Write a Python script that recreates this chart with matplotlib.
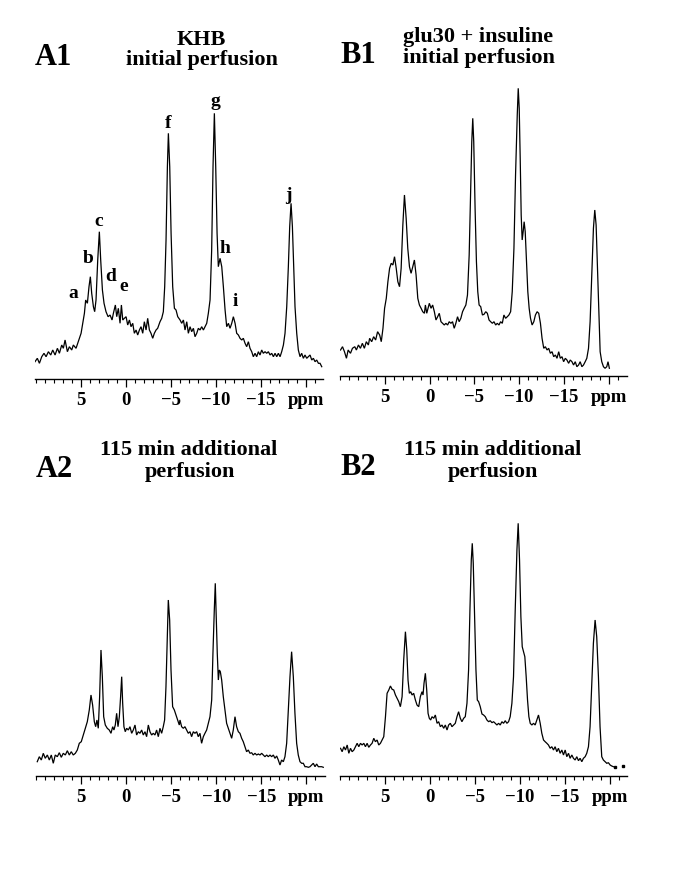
import matplotlib
matplotlib.use('Agg')
import matplotlib.pyplot as plt

plt.rcParams['font.family'] = ['Liberation Serif', 'DejaVu Serif']
plt.rcParams['font.weight'] = 'bold'

# ---------------- data ----------------
major_ticks = [5, 0, -5, -10, -15, -20]
tick_labels = ['5', '0', '\u22125', '\u221210', '\u221215', 'ppm']
minor_ticks = list(range(10, -22, -1))

a1_ppm = [10.06, 9.80, 9.57, 9.31, 9.06, 8.83, 8.57, 8.31, 8.09, 7.83, 7.57, 7.35, 7.09, 6.91, 6.72,
          6.46, 6.24, 5.98, 5.80, 5.50, 5.31, 5.13, 4.94, 4.76, 4.57, 4.43, 4.24, 4.06, 3.91, 3.76,
          3.57, 3.43, 3.28, 3.09, 2.91, 2.76, 2.57, 2.39, 2.17, 1.94, 1.72, 1.50, 1.35, 1.13, 0.98,
          0.80, 0.61, 0.46, 0.31, 0.13, -0.06, -0.24, -0.43, -0.61, -0.80, -0.98, -1.17, -1.35, -1.54,
          -1.72, -1.91, -2.09, -2.28, -2.46, -2.65, -2.83, -3.02, -3.20, -3.39, -3.57, -3.83, -4.02,
          -4.20, -4.35, -4.50, -4.65, -4.76, -4.91, -5.06, -5.24, -5.43, -5.61, -5.80, -6.06,
          -6.24, -6.43, -6.61, -6.80, -6.98, -7.17, -7.35, -7.54, -7.72, -7.91, -8.09, -8.28, -8.46,
          -8.65, -8.83, -9.02, -9.20, -9.39, -9.57, -9.72, -9.87, -10.02, -10.17, -10.31, -10.50,
          -10.69, -10.87, -11.06, -11.24, -11.43, -11.61, -11.80, -11.98, -12.17, -12.35, -12.54,
          -12.72, -12.91, -13.09, -13.28, -13.46, -13.65, -13.83, -14.02, -14.20, -14.39, -14.57,
          -14.76, -14.94, -15.13, -15.31, -15.50, -15.69, -15.87, -16.06, -16.24, -16.43, -16.61,
          -16.80, -16.98, -17.17, -17.35, -17.54, -17.72, -17.91, -18.09, -18.24, -18.39, -18.54,
          -18.69, -18.83, -19.02, -19.20, -19.39, -19.57, -19.76, -19.94, -20.13, -20.31, -20.50,
          -20.69, -20.87, -21.06, -21.24, -21.43, -21.61, -21.80]
a1_int = [17.3, 20.7, 15.7, 22.3, 25.7, 22.3, 27.3, 24, 29, 24, 30.7, 25.7, 34, 30.7, 39,
          27.3, 32.3, 29, 34, 30.7, 35.7, 40.7, 45.7, 55.7, 65.7, 79, 75.7, 92.3, 102.3, 85.7,
          72.3, 67.3, 79, 119, 147.3, 119, 89, 75.7, 67.3, 62.3, 64, 59, 65.7, 74, 62.3,
          70.7, 55.7, 74, 59, 60.7, 62.3, 54, 59, 52.3, 55.7, 45.7, 49, 44, 49,
          52.3, 45.7, 57.3, 49, 60.7, 49, 45.7, 40.7, 45.7, 49, 50.7, 57.3, 60.7,
          67.3, 92.3, 139, 212.3, 245.7, 212.3, 145.7, 92.3, 70.7, 69, 62.3, 59,
          55.7, 59, 49, 57.3, 45.7, 52.3, 47.3, 50.7, 42.3, 45.7, 50.7, 49, 52.3,
          49, 52.3, 55.7, 65.7, 79, 129, 212.3, 265.7, 212.3, 145.7, 112.3, 120.7,
          112.3, 92.3, 69, 52.3, 55.7, 50.7, 55.7, 62.3, 55.7, 45.7, 44,
          40.7, 39, 40.7, 35.7, 32.3, 37.3, 30.7, 27.3, 22.3, 25.7, 22.3,
          27.3, 24, 29, 25.7, 27.3, 25.7, 27.3, 24, 25.7, 22.3, 25.7,
          22.3, 25.7, 22.3, 27.3, 34, 45.7, 72.3, 112.3, 152.3, 175.7, 152.3,
          112.3, 72.3, 45.7, 29, 22.3, 25.7, 20.7, 24, 20.7, 22.3, 24,
          19, 20.7, 17.3, 19, 15.7, 15.7, 12.3]

b1_ppm = [9.94, 9.72, 9.50, 9.28, 9.09, 8.83, 8.61, 8.35, 8.17, 7.94, 7.72, 7.50, 7.28, 7.06, 6.83,
          6.69, 6.46, 6.24, 6.02, 5.80, 5.57, 5.39, 5.20, 5.02, 4.83, 4.65, 4.46, 4.28, 4.09, 3.91,
          3.72, 3.54, 3.35, 3.17, 2.98, 2.80, 2.61, 2.43, 2.24, 2.06, 1.87, 1.69, 1.50, 1.31, 1.13,
          0.94, 0.76, 0.57, 0.46, 0.31, 0.17, 0.02, -0.17, -0.35, -0.54, -0.72, -0.91, -1.09, -1.28,
          -1.46, -1.65, -1.83, -2.02, -2.20, -2.39, -2.57, -2.76, -2.94, -3.13, -3.31, -3.50, -3.69,
          -3.87, -4.06, -4.24, -4.43, -4.57, -4.72, -4.83, -4.94, -5.09, -5.24, -5.39, -5.54, -5.72,
          -5.91, -6.09, -6.28,
          -6.46, -6.65, -6.83, -7.02, -7.20, -7.39, -7.57, -7.76, -7.94, -8.13, -8.31, -8.50, -8.69,
          -8.87, -9.06, -9.24, -9.43, -9.61, -9.80, -9.91, -10.02, -10.13, -10.24, -10.35, -10.46,
          -10.57, -10.69, -10.83, -10.98, -11.13, -11.28, -11.46, -11.65, -11.83, -12.02, -12.20,
          -12.39, -12.57, -12.76, -12.94, -13.13, -13.31, -13.50, -13.69, -13.87, -14.06, -14.24,
          -14.43, -14.61, -14.80, -14.98, -15.17, -15.35, -15.54, -15.72, -15.91, -16.09, -16.28,
          -16.46, -16.65, -16.83, -17.02, -17.20, -17.39, -17.57, -17.76, -17.94, -18.13, -18.31,
          -18.46, -18.61, -18.76, -18.91, -19.06, -19.24, -19.43, -19.61, -19.80, -19.94, -20.09]
b1_int = [20, 23.3, 18.3, 11.7, 20, 16.7, 21.7, 23.3, 20, 25, 21.7, 26.7, 21.7, 28.3, 25,
          31.7, 28.3, 33.3, 30, 38.3, 35, 28.3, 41.7, 61.7, 71.7, 88.3, 101.7, 106.7, 105, 113.3,
          101.7, 88.3, 83.3, 101.7, 145, 175, 151.7, 121.7, 103.3, 96.7, 103.3, 110, 95, 71.7, 65,
          61.7, 58.3, 56.7, 65, 56.7, 61.7, 66.7, 61.7, 65, 58.3, 50, 53.3, 56.7, 48.3,
          46.7, 45, 46.7, 45, 48.3, 46.7, 48.3, 41.7, 46.7, 53.3, 48.3, 51.7, 58.3,
          61.7, 65, 75, 115, 168.3, 228.3, 251.7, 228.3, 161.7, 108.3, 78.3, 65, 63.3,
          55, 55.7, 58.3,
          56.7, 50, 48.3, 46.7, 48.3, 45, 46.7, 45, 48.3, 46.7, 55, 51.7, 53.3,
          55, 58.3, 78.3, 121.7, 195, 255, 281.7, 261.7, 211.7, 155, 130, 138.3,
          148.3, 138.3, 108.3, 78.3, 61.7, 51.7, 45, 48.3, 55, 58.3, 56.7,
          46.7, 31.7, 21.7, 23.3, 20, 21.7, 16.7, 18.3, 13.3, 15, 11.7,
          18.3, 11.7, 13.3, 8.3, 11.7, 10, 6.7, 10, 8.3, 5, 8.3,
          3.3, 5, 8.3, 3.3, 5, 8.3, 11.7, 21.7, 48.3, 95, 141.7,
          160, 145, 101.7, 55, 18.3, 8.3, 3.3, 1.7, 3.3, 8.3, 1.7]

a2_ppm = [9.89, 9.66, 9.44, 9.22, 9.00, 8.77, 8.55, 8.33, 8.11, 7.89, 7.66, 7.44, 7.22, 7.00, 6.77,
          6.55, 6.33, 6.11, 5.89, 5.66, 5.44, 5.22, 5.00, 4.77, 4.55, 4.33, 4.11, 3.92, 3.74, 3.55,
          3.40, 3.26, 3.11, 2.96, 2.81, 2.66, 2.51, 2.33, 2.11, 1.89, 1.70, 1.51, 1.37, 1.22, 1.07,
          0.92, 0.77, 0.63, 0.51, 0.40, 0.26, 0.11, -0.04, -0.23, -0.41, -0.60, -0.78, -0.97, -1.15,
          -1.34, -1.52, -1.71, -1.89, -2.08, -2.26, -2.45, -2.63, -2.82, -3.00, -3.19, -3.37, -3.56,
          -3.74, -3.93, -4.11, -4.26, -4.41, -4.56, -4.67, -4.82, -4.97, -5.15, -5.34, -5.52, -5.71,
          -5.89,
          -5.97, -6.15, -6.34, -6.52, -6.71, -6.89, -7.08, -7.26, -7.45, -7.63, -7.82, -8.00, -8.19,
          -8.37, -8.56, -8.74, -8.93, -9.11, -9.30, -9.49, -9.63, -9.78, -9.89, -10.00, -10.11,
          -10.23, -10.34, -10.45, -10.60, -10.78, -10.97, -11.15, -11.34, -11.52, -11.71, -11.89,
          -12.08, -12.26, -12.45, -12.63, -12.82, -13.00, -13.19, -13.37, -13.56, -13.74, -13.93,
          -14.11, -14.30, -14.49, -14.67, -14.86, -15.04, -15.23, -15.41, -15.60, -15.78, -15.97,
          -16.15, -16.34, -16.52, -16.71, -16.89, -17.08, -17.26, -17.45, -17.63, -17.82, -18.00,
          -18.19, -18.37, -18.56, -18.74, -18.93, -19.11, -19.30, -19.49, -19.67, -19.86, -20.04,
          -20.23, -20.41, -20.60, -20.78, -20.97, -21.15, -21.34, -21.71, -21.89]
a2_int = [14.3, 19.3, 16, 22.7, 17.7, 21, 16, 21, 12.7, 21, 19.3, 23.3, 18.7, 22.7, 21,
          25.3, 21, 24.3, 21, 22.7, 26, 32.7, 34.3, 41, 47.7, 54.3, 66, 81, 71, 54.3,
          49.3, 56, 47.7, 79.3, 126, 99.3, 59.3, 51, 47.7, 46, 42.7, 49.3, 46, 51, 62.7,
          49.3, 59.3, 79.3, 99.3, 72.7, 49.3, 44.3, 47.7, 46, 49.3, 42.7, 46, 51, 41,
          44.3, 42.7, 46, 41, 44.3, 39.3, 51, 44.3, 41, 42.7, 41, 46, 39.3,
          47.7, 42.7, 49.3, 56, 89.3, 139.3, 176, 156, 106, 69.3, 66, 61, 56,
          51,
          56, 49.3, 47.7, 49.3, 46, 42.7, 44.3, 39.3, 44.3, 42.7, 44.3, 39.3, 42.7,
          32.7, 39.3, 42.7, 46, 52.7, 59.3, 76, 122.7, 166, 192.7, 156, 122.7,
          96, 106, 104.3, 96, 79.3, 66, 52.7, 47.7, 42.7, 37.7, 46,
          59.3, 49.3, 44.3, 42.7, 37.7, 34.3, 29.3, 24.3, 26, 22.7, 23.3,
          21, 22.7, 21, 22, 21, 22.7, 21, 19.3, 21, 19.3, 21,
          19.3, 21, 17.7, 20, 16, 11, 16, 14.3, 19.3, 32.7, 66,
          99.3, 124.3, 99.3, 62.7, 32.7, 21, 14.3, 12.7, 12.7, 9.3, 9.3,
          8.7, 9.3, 11, 12.7, 9.3, 12, 9.3, 9.3, 8.7]

b2_ppm = [9.94, 9.76, 9.57, 9.39, 9.20, 9.02, 8.83, 8.65, 8.46, 8.28, 8.09, 7.91, 7.72, 7.54, 7.35,
          7.17, 6.98, 6.80, 6.61, 6.43, 6.24, 6.06, 5.87, 5.69, 5.50, 5.31, 5.13, 4.94, 4.76, 4.57,
          4.39, 4.20, 4.02, 3.83, 3.65, 3.46, 3.28, 3.09, 2.91, 2.72, 2.57, 2.43, 2.28, 2.13, 1.98,
          1.80, 1.61, 1.43, 1.24, 1.06, 0.87, 0.76, 0.65, 0.50, 0.35, 0.20, 0.06, -0.09, -0.24,
          -0.43, -0.61, -0.80, -0.98, -1.17, -1.35, -1.54, -1.72, -1.91, -2.09, -2.28, -2.46, -2.65,
          -2.83, -3.02, -3.20, -3.39, -3.57, -3.76, -3.94, -4.13, -4.31, -4.46, -4.61, -4.72, -4.83,
          -4.98, -5.13, -5.28, -5.43, -5.61, -5.80, -5.98,
          -6.17, -6.35, -6.54, -6.72, -6.91, -7.09, -7.28, -7.46, -7.65, -7.83, -8.02, -8.20, -8.39,
          -8.57, -8.76, -8.94, -9.13, -9.31, -9.50, -9.69, -9.83, -9.98, -10.13, -10.28, -10.43,
          -10.57, -10.72, -10.87, -11.02, -11.17, -11.35, -11.54, -11.72, -11.91, -12.09, -12.28,
          -12.46, -12.65, -12.83, -13.02, -13.20, -13.39, -13.57, -13.76, -13.94, -14.13, -14.31,
          -14.50, -14.69, -14.87, -15.06, -15.24, -15.43, -15.61, -15.80, -15.98, -16.17, -16.35,
          -16.54, -16.72, -16.91, -17.09, -17.28, -17.46, -17.65, -17.83, -18.02, -18.20, -18.39,
          -18.57, -18.76, -18.94, -19.13, -19.31, -19.50, -19.69, -19.87, -20.06, -20.24, -20.43]
b2_int = [25.7, 22.3, 27.3, 24, 29, 20.7, 25.7, 22.3, 24, 27.3, 30.7, 27.3, 30.7, 29, 30.7,
          27.3, 30.7, 26.7, 29, 30.7, 35.7, 32.3, 34, 29, 30.7, 34, 37.3, 57.3, 80.7, 84,
          88, 84.7, 84, 79, 75.7, 72.3, 67.3, 77.3, 114, 142.3, 124, 94, 80.7, 82.3, 79,
          80.7, 74, 69, 67.3, 77.3, 82.3, 79, 90.7, 100.7, 84, 60.7, 55.7, 54, 57.3,
          55.7, 59, 50.7, 52.3, 47.3, 49, 45.7, 49, 44, 49, 50.7, 47.3, 49,
          50.7, 57.3, 62.3, 55.7, 52.3, 55.7, 57.3, 70.7, 104, 164, 214, 230.7, 210.7,
          157.3, 104, 74, 72.3, 67.3, 60, 59,
          57.3, 54, 52.3, 53.3, 51.3, 52.3, 50.7, 49, 50.7, 49, 52.3, 50.7, 53.3,
          50.7, 52.3, 57.3, 70.7, 97.3, 164, 224, 250.7, 214, 157.3, 127.3, 122.3,
          117.3, 97.3, 74, 57.3, 50.7, 49, 50.7, 49, 54, 59, 50.7,
          40.7, 34, 32.3, 30.7, 29, 25.7, 27.3, 24, 27.3, 22.3, 25.7,
          20.7, 24, 19, 24, 17.3, 20.7, 15.7, 19, 15.7, 14, 17.3,
          13.3, 15.7, 12.3, 15.7, 17.3, 20.7, 27.3, 47.3, 90.7, 130.7, 154,
          137.3, 97.3, 47.3, 17.3, 14, 12.3, 10.7, 11.3, 9, 8, 7.3]
b2_dot_ppm = [-20.6, -21.5]
b2_dot_int = [7.5, 7.7]

peak_letters = ['a', 'b', 'c', 'd', 'e', 'f', 'g', 'h', 'i', 'j']
peak_ppm = [5.80, 4.13, 2.94, 1.61, 0.24, -4.76, -9.94, -11.06, -12.17, -18.13]
peak_height = [86, 120.7, 157.3, 102.3, 92.3, 255.7, 277.3, 130.7, 77.3, 184]

for name, xs, ys in [('a1', a1_ppm, a1_int), ('b1', b1_ppm, b1_int),
                     ('a2', a2_ppm, a2_int), ('b2', b2_ppm, b2_int)]:
    if len(xs) != len(ys):
        raise ValueError(f'{name}: {len(xs)} vs {len(ys)}')

# ---------------- figure ----------------
W, H = 685, 880
fig = plt.figure(figsize=(W / 100, H / 100), dpi=100)


def fx(x):
    return x / W


def fy(y):
    return 1 - y / H


def add_panel(left, right, top, bottom, xlim, ppm, inten, y0=0):
    ax = fig.add_axes([fx(left), fy(bottom), (right - left) / W, (bottom - top) / H])
    ax.plot(ppm, inten, color='black', lw=0.9, solid_joinstyle='miter')
    ax.set_xlim(*xlim)
    ax.set_ylim(y0, y0 + bottom - top)
    for s in ['left', 'right', 'top']:
        ax.spines[s].set_visible(False)
    ax.spines['bottom'].set_linewidth(1.0)
    ax.set_yticks([])
    ax.set_xticks(major_ticks)
    ax.set_xticklabels(tick_labels)
    ax.set_xticks(minor_ticks, minor=True)
    ax.tick_params(axis='x', which='major', direction='out', length=5.5, width=0.9,
                   pad=4, labelsize=13.5)
    ax.tick_params(axis='x', which='minor', direction='out', length=2.8, width=0.8)
    for lab in ax.get_xticklabels():
        lab.set_fontweight('bold')
    ax.patch.set_visible(False)
    return ax


ax_a1 = add_panel(35, 323, 95, 379, (10.06, -21.94), a1_ppm, a1_int)
ax_b1 = add_panel(340, 627, 80, 376, (9.83, -22.06), b1_ppm, b1_int, y0=-6)
ax_a2 = add_panel(36, 325, 560, 776, (10.03, -22.08), a2_ppm, a2_int)
ax_b2 = add_panel(340, 627, 510, 776, (9.94, -21.94), b2_ppm, b2_int, y0=-2)
ax_b2.plot(b2_dot_ppm, b2_dot_int, linestyle='none', marker='s', markersize=1.6,
           color='black')

for letter, xp, yp in zip(peak_letters, peak_ppm, peak_height):
    ax_a1.text(xp, yp, letter, ha='center', va='center', fontsize=14,
               fontweight='bold', clip_on=False)

# panel titles
big = dict(fontsize=22, fontweight='bold', va='baseline')
sub = dict(fontsize=16, fontweight='bold', va='baseline')

fig.text(fx(35), fy(65), 'A1', ha='left', **big)
fig.text(fx(201), fy(45), 'KHB', ha='center', **sub)
fig.text(fx(202), fy(65), 'initial perfusion', ha='center', **sub)

fig.text(fx(340), fy(63), 'B1', ha='left', **big)
fig.text(fx(403), fy(42), 'glu30 + insuline', ha='left', **sub)
fig.text(fx(403), fy(63), 'initial perfusion', ha='left', **sub)

fig.text(fx(36), fy(477), 'A2', ha='left', **big)
fig.text(fx(189), fy(455), '115 min additional', ha='center', **sub)
fig.text(fx(190), fy(477), 'perfusion', ha='center', **sub)

fig.text(fx(340), fy(475), 'B2', ha='left', **big)
fig.text(fx(493), fy(455), '115 min additional', ha='center', **sub)
fig.text(fx(493), fy(477), 'perfusion', ha='center', **sub)

fig.savefig('out.png', dpi=100)
